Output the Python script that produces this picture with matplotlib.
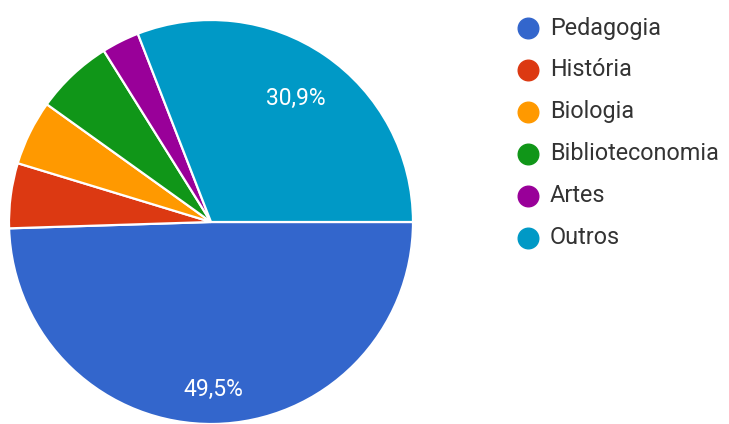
import matplotlib.pyplot as plt
import numpy as np

plt.rcParams['font.family'] = ['Roboto', 'DejaVu Sans']

# dados do gráfico
cursos = ['Pedagogia', 'História', 'Biologia', 'Biblioteconomia', 'Artes', 'Outros']
valores = [49.5, 5.2, 5.2, 6.2, 3.0, 30.9]
cores = ['#3366cc', '#dc3912', '#ff9900', '#109618', '#990099', '#0099c6']
mostrar_rotulo = [True, False, False, False, False, True]
dist_rotulo = [0.83, 0.7, 0.7, 0.7, 0.7, 0.74]

W, H = 729, 424
fig = plt.figure(figsize=(W / 100, H / 100), dpi=100)
ax = fig.add_axes([0, 0, 1, 1])

cx, cy, r = 211, H - 222, 202
wedges, _ = ax.pie(valores, colors=cores, startangle=0, counterclock=False,
                   center=(cx, cy), radius=r, frame=True,
                   wedgeprops=dict(edgecolor='white', linewidth=1.6))
ax.set_xlim(0, W)
ax.set_ylim(0, H)
ax.set_aspect('equal')
ax.axis('off')

# rótulos de porcentagem
for w, v, show, d in zip(wedges, valores, mostrar_rotulo, dist_rotulo):
    if not show:
        continue
    ang = np.deg2rad((w.theta1 + w.theta2) / 2)
    x = cx + d * r * np.cos(ang)
    y = cy + d * r * np.sin(ang)
    ax.text(x, y, f'{v:.1f}%'.replace('.', ','), color='white',
            fontsize=16.5, ha='center', va='center')

# legenda
for i, (nome, cor) in enumerate(zip(cursos, cores)):
    y = H - (28 + i * 41.9)
    ax.scatter([528], [y], s=220, color=cor, zorder=3, clip_on=False)
    ax.text(550, y, nome, fontsize=16.8, color='#333333', va='center', ha='left')

fig.savefig('out.png', dpi=100)
